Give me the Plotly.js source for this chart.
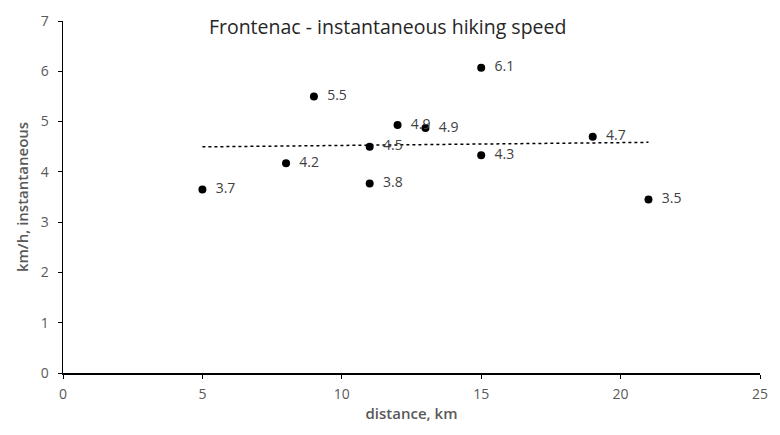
<!DOCTYPE html>
<html><head><meta charset="utf-8">
<script src="https://cdn.plot.ly/plotly-3.0.1.min.js"></script>
<style>html,body{margin:0;padding:0;background:#fff}</style>
</head><body>
<div id="chart" style="width:780px;height:435px"></div>
<script>
const distanceKm = [5, 8, 9, 11, 11, 12, 13, 15, 15, 19, 21];
const speedKmh   = [3.65, 4.17, 5.5, 4.5, 3.77, 4.93, 4.87, 6.07, 4.33, 4.7, 3.45];
const speedLabels = ['3.7','4.2','5.5','4.5','3.8','4.9','4.9','6.1','4.3','4.7','3.5'];

// linear trendline (least squares) from the data
const n = distanceKm.length;
const mx = distanceKm.reduce((a,b)=>a+b,0)/n;
const my = speedKmh.reduce((a,b)=>a+b,0)/n;
let sxy=0, sxx=0;
for (let i=0;i<n;i++){ sxy+=(distanceKm[i]-mx)*(speedKmh[i]-my); sxx+=(distanceKm[i]-mx)**2; }
const slope = sxy/sxx, icpt = my - slope*mx;
const xmin = Math.min(...distanceKm), xmax = Math.max(...distanceKm);

const font = "'Open Sans', sans-serif";
const traces = [
  {x:[xmin,xmax], y:[icpt+slope*xmin, icpt+slope*xmax], mode:'lines',
   line:{color:'#000', width:1.5, dash:'dot'}, hoverinfo:'skip', showlegend:false},
  {x:distanceKm, y:speedKmh, mode:'markers+text', text:speedLabels.map(s=>'  '+s),
   textposition:'middle right', textfont:{family:font, size:14, color:'#404040'},
   marker:{color:'#000', size:8}, showlegend:false, cliponaxis:false}
];
const layout = {
  width:780, height:435,
  margin:{l:63, r:20, t:21, b:62},
  paper_bgcolor:'#fff', plot_bgcolor:'#fff',
  font:{family:font, color:'#595959', size:14},
  title:{text:'Frontenac - instantaneous hiking speed', x:0.497, xanchor:'center', y:0.937, yanchor:'middle', yref:'container',
         font:{family:font, size:19.5, color:'#262626'}},
  xaxis:{range:[0,25], tick0:0, dtick:5, showgrid:false, zeroline:false, showline:true, linecolor:'#000', linewidth:1.5,
         ticks:'outside', ticklen:4, tickcolor:'#000', ticklabelstandoff:4, tickfont:{size:14, color:'#595959'},
         title:{text:'distance, km', font:{size:15, color:'#595959', weight:600}, standoff:6}},
  yaxis:{range:[0,7], tick0:0, dtick:1, showgrid:false, zeroline:false, showline:true, linecolor:'#000', linewidth:1.5,
         ticks:'outside', ticklen:4, tickcolor:'#000', ticklabelstandoff:6, tickfont:{size:14, color:'#595959'},
         title:{text:'km/h, instantaneous', font:{size:15, color:'#595959', weight:600}, standoff:8}}
};
Plotly.newPlot('chart', traces, layout, {displayModeBar:false, staticPlot:true});
</script>
</body></html>
